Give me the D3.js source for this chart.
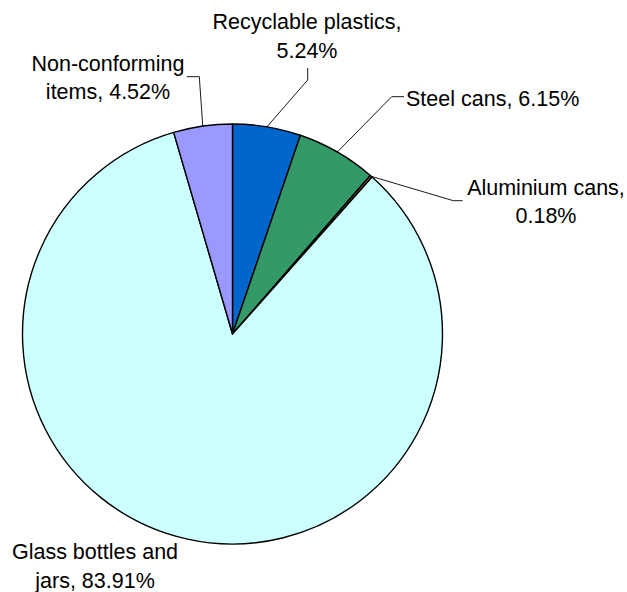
<!DOCTYPE html>
<html>
<head>
<meta charset="utf-8">
<script src="https://cdn.jsdelivr.net/npm/d3@7"></script>
<style>
html,body{margin:0;padding:0;background:#fff;}
svg{display:block;}
text{font-family:"Liberation Sans",Arial,Helvetica,sans-serif;font-size:21.5px;fill:#000;}
</style>
</head>
<body>
<svg id="chart" width="627" height="592"></svg>
<script>
const categories = ["Recyclable plastics", "Steel cans", "Aluminium cans", "Glass bottles and jars", "Non-conforming items"];
const values = [5.24, 6.15, 0.18, 83.91, 4.52];
const colors = ["#0066CC", "#339966", "#996633", "#CCFFFF", "#9999FF"];
const labelLines = [
  ["Recyclable plastics,", "5.24%"],
  ["Steel cans, 6.15%"],
  ["Aluminium cans,", "0.18%"],
  ["Glass bottles and", "jars, 83.91%"],
  ["Non-conforming", "items, 4.52%"]
];

// layout (positions only)
const cx = 232.5, cy = 334, R = 210;
const labelLayout = [
  {x: 307, y: 29.4, anchor: "middle", leader: [[307.7, 80], [307.7, 68]]},
  {x: 406, y: 106, anchor: "start", leader: [[391.7, 96.7], [404, 96.7]]},
  {x: 546, y: 194.7, anchor: "middle", leader: [[453.3, 200.7], [462.7, 200.7]]},
  {x: 95, y: 559.4, anchor: "middle", leader: null},
  {x: 108, y: 70.7, anchor: "middle", leader: [[199.3, 76.7], [186.7, 76.7]]}
];
const lineGap = 28.3;

const svg = d3.select("#chart");
const g = svg.append("g").attr("transform", `translate(${cx},${cy})`);

const pie = d3.pie().sort(null).value(d => d.v);
const data = categories.map((c, i) => ({c, v: values[i], i}));
const arcs = pie(data);
const arc = d3.arc().innerRadius(0).outerRadius(R);

g.selectAll("path.slice").data(arcs).enter().append("path")
  .attr("class", "slice")
  .attr("d", arc)
  .attr("fill", d => colors[d.data.i])
  .attr("stroke", "#000")
  .attr("stroke-width", 1.4)
  .attr("stroke-linejoin", "round");

// leader lines
arcs.forEach(a => {
  const L = labelLayout[a.data.i];
  if (!L.leader) return;
  const mid = (a.startAngle + a.endAngle) / 2;
  const p0 = [cx + R * Math.sin(mid), cy - R * Math.cos(mid)];
  const pts = [p0].concat(L.leader);
  svg.append("path")
    .attr("d", d3.line()(pts))
    .attr("fill", "none")
    .attr("stroke", "#000")
    .attr("stroke-width", 0.9);
});

// labels
labelLayout.forEach((L, i) => {
  const t = svg.append("text").attr("text-anchor", L.anchor);
  labelLines[i].forEach((line, k) => {
    t.append("tspan").attr("x", L.x).attr("y", L.y + k * lineGap).text(line);
  });
});
</script>
</body>
</html>
